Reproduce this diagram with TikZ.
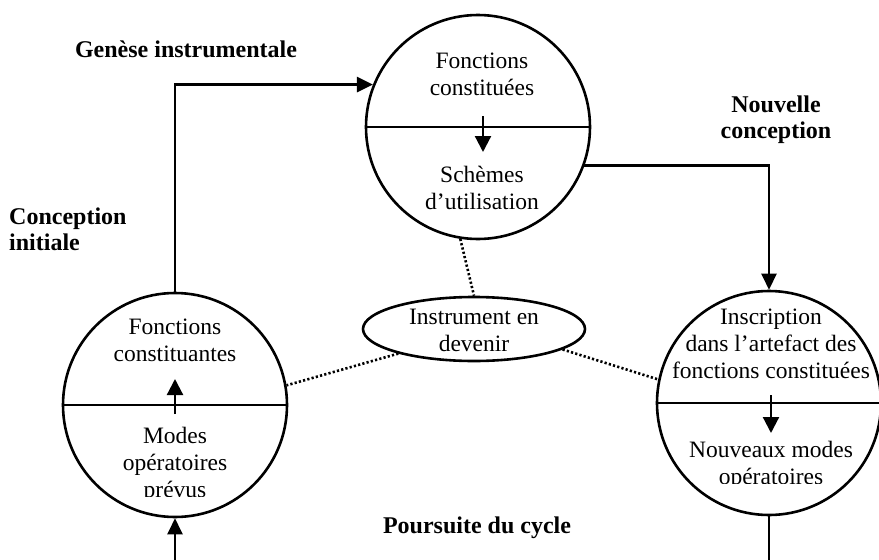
\documentclass[tikz,border=0pt]{standalone}
\usepackage{fontspec}
\setmainfont{Liberation Serif}
\usetikzlibrary{arrows.meta,shapes.geometric}
\begin{document}
\begin{tikzpicture}[x=1pt,y=-1pt,
  phase/.style={circle,draw,line width=2.6pt,minimum size=224pt,inner sep=0pt},
  txt/.style={align=center,font=\fontsize{23.5}{27}\selectfont,inner sep=0pt},
  lbl/.style={align=center,font=\fontsize{24}{26}\selectfont\bfseries,inner sep=0pt},
  flow/.style={line width=2.5pt,-{Triangle[length=16pt,width=15pt]}},
  inner/.style={line width=2.2pt,-{Triangle[length=16pt,width=16pt]}},
  plain/.style={line width=2.5pt},
  link/.style={line width=2.6pt,dash pattern=on 2.2pt off 2.2pt},
  sep/.style={line width=1.8pt}]
\useasboundingbox (0,0) rectangle (879,560);

% the three phases of the cycle
\node[phase] (top) at (478,127) {};
\node[phase] (left) at (175,405) {};
\node[phase] (right) at (769,403) {};

% central ellipse
\node[ellipse,draw,line width=2.6pt,minimum width=222pt,minimum height=64pt,inner sep=0pt] (inst) at (474,329) {};
\node[txt] (instT) at (474,330) {Instrument en\\devenir};

% dividers inside the circles
\draw[sep] (top.west) -- (top.east);
\draw[sep] (left.west) -- (left.east);
\draw[sep] (right.west) -- (right.east);

% texts of the top circle
\node[txt] (topA) at (482,74) {Fonctions\\constituées};
\node[txt] (topB) at (482,188) {Schèmes\\d’utilisation};
\coordinate (ta1) at (483,116);
\coordinate (ta2) at (483,152);
\draw[inner] (ta1) -- (ta2);

% texts of the left circle
\node[txt] (leftA) at (175,340) {Fonctions\\constituantes};
\begin{scope}
  \clip (60,420) rectangle (290,496);
  \node[txt] (leftB) at (175,465) {Modes\\opératoires\\prévus};
\end{scope}
\coordinate (la1) at (175,414);
\coordinate (la2) at (175,379);
\draw[inner] (la1) -- (la2);

% texts of the right circle
\node[txt] (rightA) at (771,344) {Inscription\\dans l’artefact des\\fonctions constituées};
\begin{scope}
  \clip (650,420) rectangle (879,483);
  \node[txt] (rightB) at (771,465) {Nouveaux modes\\opératoires};
\end{scope}
\coordinate (ra1) at (771,395);
\coordinate (ra2) at (771,433);
\draw[inner] (ra1) -- (ra2);

% bold labels
\node[lbl] (gen) at (186,49) {Genèse instrumentale};
\node[lbl] (nouv) at (776,120) {Nouvelle\\conception};
\node[lbl,align=left,anchor=west] (conc) at (9,229) {Conception\\initiale};
\node[lbl] (pours) at (477,528) {Poursuite du cycle};

% cycle connectors
\draw[flow] (left.north) |- (top.158);
\draw[flow] (top.-20) -| (right.north);
\coordinate (lin) at (175,560);
\draw[flow] (lin) -- (left.south);
\coordinate (rout) at (769,560);
\draw[plain] (right.south) -- (rout);

% dotted links to the instrument
\draw[link] (top.-99) -- (inst.north);
\draw[link] (inst.198) -- (left.10);
\draw[link] (inst.-13) -- (right.168);
\end{tikzpicture}
\end{document}
